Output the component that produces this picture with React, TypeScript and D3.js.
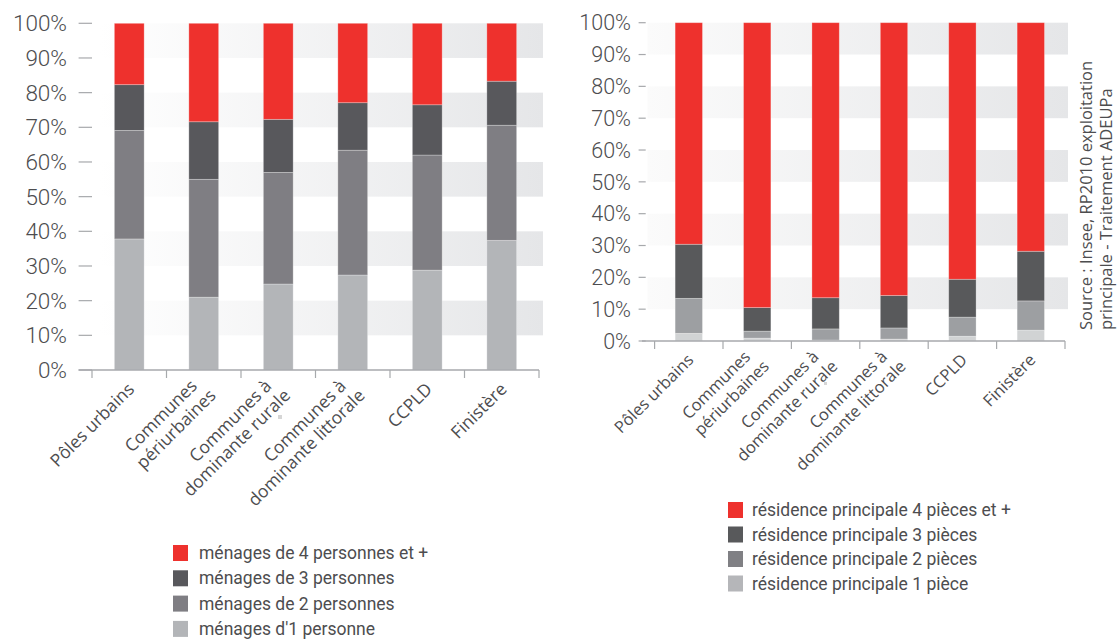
import React from "react";
import * as d3 from "d3";

// ---------- data ----------
const categories: string[][] = [
  ["Pôles urbains"],
  ["Communes", "périurbaines"],
  ["Communes à", "dominante rurale"],
  ["Communes à", "dominante littorale"],
  ["CCPLD"],
  ["Finistère"],
];

const yTicks = [0, 10, 20, 30, 40, 50, 60, 70, 80, 90, 100];

// Left chart: households by size (%)
const menages1 = [37.8, 21.0, 24.8, 27.4, 28.8, 37.4];
const menages2 = [31.3, 34.0, 32.2, 36.0, 33.2, 33.2];
const menages3 = [13.2, 16.6, 15.3, 13.7, 14.5, 12.7];
const menages4 = [17.7, 28.4, 27.7, 22.9, 23.5, 16.7];
const menagesLabels = [
  "ménages d'1 personne",
  "ménages de 2 personnes",
  "ménages de 3 personnes",
  "ménages de 4 personnes et +",
];
const menagesColors = ["#b3b5b8", "#7f7e83", "#58585c", "#ee312d"];

// Right chart: main residences by number of rooms (%)
const rp1 = [2.4, 0.9, 0.3, 0.6, 1.5, 3.4];
const rp2 = [11.0, 2.2, 3.5, 3.5, 6.0, 9.2];
const rp3 = [17.0, 7.4, 9.8, 10.2, 11.9, 15.6];
const rp4 = [69.6, 89.5, 86.4, 85.7, 80.6, 71.8];
const rpLabels = [
  "résidence principale 1 pièce",
  "résidence principale 2 pièces",
  "résidence principale 3 pièces",
  "résidence principale 4 pièces et +",
];
const rpColors = ["#d1d3d4", "#9d9fa2", "#58595b", "#ee312d"];
const rpLegendColors = ["#b5b6b9", "#808084", "#58595b", "#ee312d"];

const sourceLines = [
  "Source : Insee, RP2010 exploitation",
  "principale - Traitement ADEUPa",
];

const TEXT = "#4d4d4f";
const AXIS = "#a7a9ac";

type ChartProps = {
  id: string;
  series: number[][];
  colors: string[];
  x0: number;
  x1: number;
  yBottom: number;
  yTop: number;
  tickLeft: number;
  tickRight: number;
  axisStart: number;
  labelRight: number;
  yFont: number;
  xFont: number;
  stripeX0: number;
  stripeX1: number;
  stripeStart: string;
};

function StackedChart(p: ChartProps) {
  const keys = p.series.map((_, i) => "s" + i);
  const rows = categories.map((c, j) => {
    const r: any = { cat: c.join(" ") };
    p.series.forEach((s, i) => (r["s" + i] = s[j]));
    return r;
  });
  const stacked = d3.stack<any>().keys(keys)(rows);
  const x = d3
    .scaleBand<string>()
    .domain(rows.map((r) => r.cat))
    .range([p.x0, p.x1])
    .paddingInner(0)
    .paddingOuter(0);
  const y = d3.scaleLinear().domain([0, 100]).range([p.yBottom, p.yTop]);
  const bw = x.bandwidth() * 0.4;
  const boundaries = d3.range(categories.length + 1).map((i) => p.x0 + i * x.bandwidth());

  return (
    <g>
      <defs>
        <linearGradient id={p.id + "grad"} x1="0" x2="1" y1="0" y2="0">
          <stop offset="0" stopColor={p.stripeStart} />
          <stop offset="1" stopColor="#e5e6e8" />
        </linearGradient>
      </defs>
      {yTicks
        .filter((t) => t < 100 && t % 20 === 0)
        .map((t) => (
          <rect
            key={"st" + t}
            x={p.stripeX0}
            width={p.stripeX1 - p.stripeX0}
            y={y(t + 20)}
            height={y(t + 10) - y(t + 20)}
            fill={`url(#${p.id}grad)`}
          />
        ))}
      {yTicks.map((t) => (
        <g key={"yt" + t}>
          <line x1={p.tickLeft} x2={p.tickRight} y1={y(t)} y2={y(t)} stroke={AXIS} strokeWidth={1.2} />
          <text
            x={p.labelRight}
            y={y(t)}
            dy="0.36em"
            textAnchor="end"
            fontFamily="Roboto, sans-serif"
            fontWeight={300}
            fontSize={p.yFont}
            fill={TEXT}
          >
            {t + "%"}
          </text>
        </g>
      ))}
      {stacked.map((layer, i) =>
        layer.map((d, j) => (
          <rect
            key={"b" + i + "-" + j}
            x={(x(rows[j].cat) as number) + (x.bandwidth() - bw) / 2}
            width={bw}
            y={y(d[1])}
            height={y(d[0]) - y(d[1])}
            fill={p.colors[i]}
            stroke="rgba(255,255,255,0.35)"
            strokeWidth={0.8}
          />
        ))
      )}
      <line x1={p.axisStart} x2={p.x1} y1={p.yBottom} y2={p.yBottom} stroke={AXIS} strokeWidth={1.5} />
      {boundaries.map((bx, i) => (
        <line key={"xt" + i} x1={bx} x2={bx} y1={p.yBottom} y2={p.yBottom + 8} stroke={AXIS} strokeWidth={1.2} />
      ))}
      {categories.map((c, j) => {
        const cx = (x(rows[j].cat) as number) + x.bandwidth() / 2;
        const single = c.length === 1;
        return (
          <g key={"xl" + j} transform={`translate(${cx},${p.yBottom}) rotate(-45)`}>
            {c.map((line, k) => (
              <text
                key={k}
                x={single ? -10 : k === 0 ? -16 : -9.5}
                y={single ? 12.5 : k === 0 ? 2 : 22}
                dy="0.35em"
                textAnchor="end"
                fontFamily="'Open Sans', sans-serif"
                fontSize={p.xFont}
                fill={TEXT}
              >
                {line}
              </text>
            ))}
          </g>
        );
      })}
    </g>
  );
}

function Legend({ x, y, step, labels, colors, font, textX, sw, sh }: any) {
  const order = [3, 2, 1, 0];
  return (
    <g>
      {order.map((i, k) => (
        <g key={i}>
          <rect x={x} y={y + k * step - sh / 2} width={sw} height={sh} fill={colors[i]} />
          <text
            x={textX}
            y={y + k * step}
            dy="0.35em"
            fontFamily="Roboto, sans-serif"
            fontSize={font}
            fill={TEXT}
          >
            {labels[i]}
          </text>
        </g>
      ))}
    </g>
  );
}

export default function App() {
  return (
    <svg
      width={1120}
      height={639}
      style={{ position: "absolute", left: 0, top: 0, display: "block", background: "#ffffff" }}
    >
      <StackedChart
        id="left"
        series={[menages1, menages2, menages3, menages4]}
        colors={menagesColors}
        x0={92}
        x1={539}
        yBottom={370}
        yTop={23.3}
        tickLeft={78.6}
        tickRight={92}
        axisStart={78.6}
        labelRight={67}
        yFont={22.5}
        xFont={17.5}
        stripeX0={100}
        stripeX1={543}
        stripeStart="#ffffff"
      />
      <StackedChart
        id="right"
        series={[rp1, rp2, rp3, rp4]}
        colors={rpColors}
        x0={654.6}
        x1={1065}
        yBottom={341}
        yTop={22.7}
        tickLeft={638.6}
        tickRight={645.7}
        axisStart={642}
        labelRight={631}
        yFont={21.5}
        xFont={16.5}
        stripeX0={647.5}
        stripeX1={1068}
        stripeStart="#fbfbfb"
      />
      <rect x={278} y={415} width={4} height={4} fill="#d6d6d6" />
      <rect x={824} y={382} width={3} height={3} fill="#d6d6d6" />
      <Legend
        x={173}
        y={553}
        step={25.3}
        sw={15}
        sh={16}
        textX={199}
        labels={menagesLabels}
        colors={menagesColors}
        font={17.5}
      />
      <Legend
        x={728}
        y={510}
        step={24.5}
        sw={15}
        sh={16}
        textX={752}
        labels={rpLabels}
        colors={rpLegendColors}
        font={17.5}
      />
      {sourceLines.map((l, i) => (
        <text
          key={i}
          transform={`translate(${1092 + i * 20},330) rotate(-90)`}
          fontFamily="'Open Sans', sans-serif"
          fontSize={16.5}
          fill={TEXT}
        >
          {l}
        </text>
      ))}
    </svg>
  );
}
